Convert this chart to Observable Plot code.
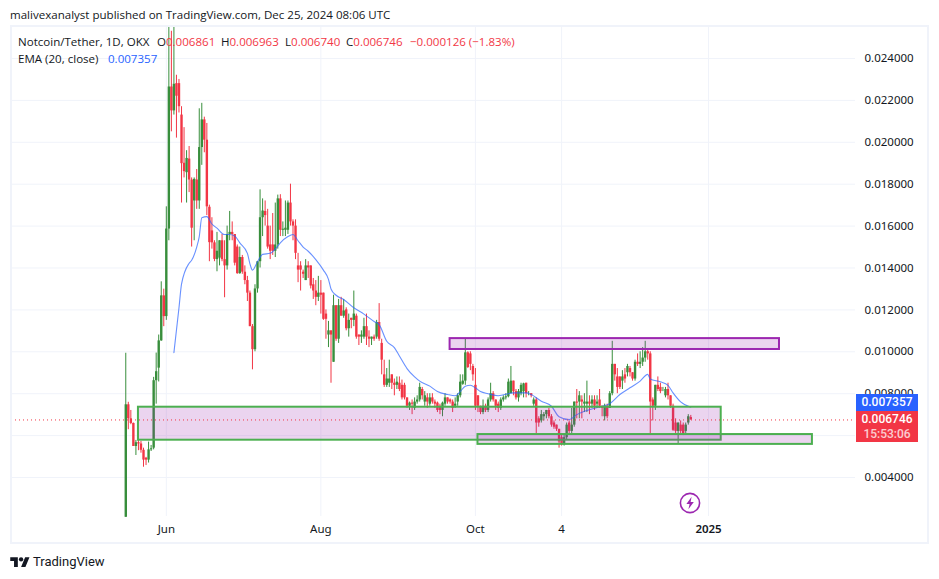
<!DOCTYPE html>
<html><head><meta charset="utf-8">
<script src="https://cdn.jsdelivr.net/npm/d3@7"></script>
<script src="https://cdn.jsdelivr.net/npm/@observablehq/plot@0.6"></script>
<style>
html,body{margin:0;padding:0;background:#fff;overflow:hidden}
#page{position:relative;width:939px;height:579px;overflow:hidden;font-family:Roboto,sans-serif;color:#131722}
#chart{position:absolute;left:0;top:25px}
#panel{position:absolute;left:10px;top:25px;width:915px;height:515px;border:2px solid #f0f3fa;pointer-events:none}
.t{position:absolute;white-space:nowrap;font-family:"Open Sans",sans-serif;font-size:11.55px;line-height:14px}
.r{color:#f23645}.b{color:#2962ff}
.tag{position:absolute;left:856px;width:62px;color:#fff;text-align:center;font-size:12px;font-weight:500}
</style></head><body>
<div id="page">
<div class="t" id="pub" style="left:10px;top:8px">malivexanalyst published on TradingView.com, Dec 25, 2024 08:06 UTC</div>
<div id="chart"></div>
<div id="panel"></div>
<div class="t" style="left:18px;top:35px">Notcoin/Tether, 1D, OKX</div>
<div class="t" style="left:157px;top:35px">O<span class="r">0.006861</span></div>
<div class="t" style="left:221px;top:35px">H<span class="r">0.006963</span></div>
<div class="t" style="left:285px;top:35px">L<span class="r">0.006740</span></div>
<div class="t" style="left:346px;top:35px">C<span class="r">0.006746</span></div>
<div class="t r" style="left:410px;top:35px">−0.000126 (−1.83%)</div>
<div class="t" style="left:18px;top:52px">EMA (20, close)</div>
<div class="t b" style="left:108px;top:52px">0.007357</div>
<div class="tag" style="top:394px;height:17px;line-height:17px;background:#2962ff">0.007357</div>
<div class="tag" style="top:411px;height:31px;background:#f23645;line-height:15px"><div style="padding-top:1px">0.006746</div><div style="opacity:.75">15:53:06</div></div>
<svg style="position:absolute;left:679px;top:492px" width="22" height="22" viewBox="0 0 22 22"><circle cx="11" cy="11" r="9.6" fill="#fff" stroke="#9c27b0" stroke-width="1.6"/><path d="M12.6 4.8 7.4 12h3.2l-1.2 5.2L14.8 10h-3.2z" fill="#9c27b0"/></svg>
<svg style="position:absolute;left:10px;top:555px" width="20" height="13" viewBox="0 0 36 24"><path d="M14 22H7V11H0V4h14v18zM28 22h-8l7.5-18h8L28 22z" fill="#131722"/><circle cx="20" cy="8" r="4" fill="#131722"/></svg>
<div class="t" style="left:33px;top:554px;font-family:Roboto,sans-serif;font-size:13px;line-height:15px;font-weight:400">TradingView</div>
</div>
<script>
// Daily candles, first one on 16 May 2024.
const opens = [
.0021,.00747,.0068,.00658,.00548,.00566,.0056,.0053,.00492,.00483,
.00532,.0054,.00862,.00922,.01052,.01267,.01168,.01586,.02264,.0215,
.0228,.0228,.0213,.019,.01855,.0192,.0182,.0172,.0182,.0172,
.01975,.02107,.0201,.0169,.01577,.0152,.0144,.01447,.0153,.0144,
.0141,.0156,.0157,.0156,.015,.01373,.0145,.0138,.0134,.0128,
.0112,.0101,.013,.0143,.0164,.0167,.016,.0151,.0151,.0148,
.0151,.0173,.0158,.0158,.0158,.0171,.0162,.016,.0141,.0141,
.0138,.0134,.0141,.0141,.0132,.0129,.0126,.0128,.0128,.0118,
.0108,.011,.0095,.0122,.0106,.0122,.0117,.012,.0111,.0116,
.0115,.0117,.0108,.0107,.0107,.0112,.0107,.0106,.0107,.0107,
.0114,.0104,.0089,.0084,.0085,.0089,.0085,.0084,.0085,.0084,
.0084,.0078,.0074,.00755,.0073,.0076,.0077,.0082,.0076,.0078,
.0075,.0078,.0076,.00755,.0074,.0072,.0075,.0078,.0077,.0076,
.0074,.0076,.0079,.00845,.0086,.00995,.0099,.0093,.0084,.0079,
.0074,.0071,.0074,.0072,.0077,.008,.0077,.0075,.0073,.0077,
.0078,.00785,.008,.0086,.0081,.0078,.008,.0081,.0085,.008,
.008,.0075,.0077,.0068,.0067,.0069,.007,.0072,.0069,.0066,
.0065,.0063,.0059,.0056,.0059,.0066,.0062,.0065,.0076,
.0076,.0077,.0075,.0075,.0076,.0075,.0077,.0075,.0077,.0074,
.0069,.0074,.0073,.008,.0094,.0088,.0088,.0086,.0089,.009,
.0092,.009,.0087,.0095,.0094,.0095,.0097,.01,.0099,.0077,
.0074,.0084,.0083,.0082,.0079,.0082,.0079,.0074,.0066,.0062,.0065,.0065,.0062,.0066,.006861];
const highs = [
.00993,.00759,.0072,.0066,.00577,.00623,.00572,.0054,.00496,.00569,
.00553,.00878,.00994,.0108,.01334,.01299,.01692,.02548,.0253,.02548,
.0232,.023,.0217,.0207,.0196,.0198,.0183,.0183,.0187,.0216,
.02186,.0212,.0209,.017,.0164,.0153,.0157,.0153,.0156,.0153,
.016,.0167,.0162,.0156,.0151,.015,.0146,.0141,.0136,.0129,
.0113,.0132,.0143,.01773,.0173,.0172,.0168,.016,.0166,.0171,
.01748,.0175,.0162,.0172,.0172,.018,.0163,.0163,.0147,.0143,
.0139,.0144,.0143,.0141,.0135,.0134,.0136,.0134,.0128,.012,
.01145,.011,.0127,.0122,.0125,.0126,.0125,.0121,.0118,.0116,
.0129,.0118,.0108,.011,.0116,.0118,.011,.0107,.0108,.0115,
.0123,.0106,.0096,.0092,.0096,.0089,.0087,.0088,.0088,.00865,
.0085,.0078,.0076,.0077,.0078,.0079,.0085,.0083,.0081,.008,
.008,.008,.0077,.0076,.0075,.0076,.008,.0078,.00775,.0077,
.0078,.008,.0089,.0089,.0106,.01,.01,.0094,.0092,.0079,
.0074,.0077,.0075,.0078,.0085,.0081,.0077,.0076,.0078,.0079,
.008,.0087,.0093,.0086,.0082,.0082,.0085,.0085,.0085,.0081,
.008,.0078,.0078,.0069,.0072,.0071,.0072,.0073,.007,.0067,
.0065,.0063,.006,.006,.0066,.0067,.0073,.0076,.0082,
.0081,.0079,.008,.0086,.0079,.0079,.0079,.0079,.0082,.0074,
.0075,.0075,.0081,.0105,.0094,.0092,.0088,.0091,.0092,.0094,
.0093,.009,.0096,.0099,.01,.0102,.0105,.0101,.01,.0078,
.0084,.0088,.0085,.0083,.0083,.0085,.0079,.0075,.0068,.0066,.0067,.0066,.0066,.007,.006963];
const lows = [
.0021,.00628,.00652,.00548,.00505,.00528,.00516,.00449,.00457,.00469,
.00524,.00532,.0075,.00856,.0105,.0112,.0115,.0153,.0205,.0213,
.0202,.0214,.0171,.0183,.0171,.0176,.015,.0153,.0168,.0168,
.0189,.0195,.0165,.0143,.0149,.0143,.01382,.0141,.0143,.01258,
.0139,.0153,.0153,.0141,.0137,.0137,.0137,.0132,.0124,.0112,
.00914,.01,.0128,.014,.0155,.016,.0149,.0144,.0146,.0145,
.0149,.0155,.0155,.0155,.0156,.016,.0153,.0144,.0133,.0129,
.0135,.0134,.0135,.013,.0125,.0122,.0124,.0118,.0115,.0106,
.0102,.0085,.0095,.0105,.0104,.0117,.0116,.011,.0107,.0111,
.0112,.0106,.0103,.0104,.0106,.0103,.0102,.0103,.0105,.0106,
.0105,.0089,.0083,.0083,.0083,.0082,.0079,.0082,.0081,.0077,
.0077,.0073,.0072,.007,.0072,.0075,.0076,.0077,.0074,.0073,
.0074,.0075,.0073,.0071,.007,.0069,.0074,.0075,.0075,.0071,
.0073,.0074,.0078,.0084,.0084,.0092,.0091,.0086,.0072,.0071,
.007,.007,.0071,.0071,.0076,.0076,.0072,.0071,.0072,.0076,
.0077,.0078,.008,.0079,.0077,.0076,.0079,.0078,.0078,.0079,
.0078,.0074,.0061,.0064,.0066,.0067,.0068,.0068,.0064,.0063,
.0062,.0054,.0055,.0055,.0058,.0061,.0061,.0064,.0068,
.0068,.0068,.0071,.0071,.007,.0073,.0072,.0073,.0073,.0069,
.0067,.0068,.0073,.0079,.0086,.008,.0082,.0082,.0085,.0088,
.0088,.0086,.0086,.0093,.0092,.0093,.0095,.0096,.0061,.0067,
.0072,.0081,.008,.0081,.0078,.0077,.0073,.0062,.0061,.0056,.0061,.006,.0061,.0065,.00674];
const closes = [
.00747,.0068,.00658,.00548,.00566,.0056,.0053,.00483,.00483,.00532,
.00537,.00862,.00905,.01052,.01267,.01168,.01586,.02264,.0215,.02277,
.0222,.0217,.01898,.0186,.01923,.0182,.0159,.01823,.0172,.01975,
.02107,.0201,.01692,.01521,.0152,.01441,.0148,.0153,.0144,.0141,
.0156,.0157,.0156,.01423,.01373,.0145,.0138,.0134,.0128,.0112,
.0101,.013,.0143,.0164,.01672,.0165,.015,.0148,.0148,.0151,
.0173,.0158,.01585,.0159,.0171,.0162,.016,.0147,.0139,.0139,
.0137,.0141,.014,.01314,.0129,.0126,.0128,.0127,.01155,.01155,
.011,.0108,.0122,.0106,.0122,.0117,.01195,.0111,.0115,.0115,
.0118,.0107,.0107,.0108,.0112,.0107,.0106,.0107,.0106,.0114,
.0106,.0096,.0084,.0087,.0087,.0085,.0084,.00855,.0082,.0078,
.0078,.0074,.00755,.0075,.0076,.0077,.0083,.0079,.0079,.0076,
.0078,.0076,.0075,.0072,.0072,.00755,.0078,.0076,.0076,.0073,
.0075,.0079,.00855,.0086,.00995,.00925,.0094,.0089,.0074,.0074,
.0071,.0074,.0072,.0077,.008,.0077,.0074,.0073,.0077,.0078,
.00785,.00855,.0086,.0081,.0078,.0081,.0084,.00847,.008,.008,
.0079,.0077,.0066,.0066,.007,.007,.0072,.0069,.0065,.0064,
.0063,.0057,.0056,.0059,.0065,.0062,.0065,.0076,.00755,
.0079,.0076,.0076,.0076,.0075,.0077,.0074,.0076,.0074,.0073,
.0074,.0069,.008,.0094,.0089,.0083,.0083,.0088,.0087,.0093,
.009,.0087,.0095,.0094,.0095,.0097,.01,.0099,.0076,.0074,
.0084,.0082,.0081,.0082,.0082,.0079,.0074,.00625,.0062,.0066,.0062,.0061,.0065,.0069,.006746];
// EMA (20, close) read at these candle numbers.
const emaDays = [19,21,22,25,26,28,29,30,32,34,36,39,41,43,45,48,49,50,52,54,57,59,61,64,66,68,70,72,75,78,80,81,83,86,90,94,98,100,103,106,108,111,114,116,120,123,127,130,132,134,136,138,140,143,147,153,158,160,164,168,171,175,178,182,187,191,195,199,203,206,207,211,214,216,219,223];
const emaValues = [.00996,.0121,.01323,.01423,.01437,.015,.0155,.0164,.01645,.0161,.0159,.0156,.0156,.01553,.0152,.0147,.0142,.0139,.0143,.01465,.0147,.0149,.0152,.0155,.0156,.0153,.015,.0148,.0144,.0139,.01346,.013,.0127,.0125,.0121,.0118,.01145,.0113,.0105,.0102,.0098,.0092,.0088,.0086,.00836,.0081,.00796,.0079,.0081,.00836,.0084,.00828,.0081,.008,.0079,.00804,.00804,.00796,.00764,.0074,.0069,.00676,.007,.0072,.00737,.00752,.00796,.00828,.0086,.00892,.0087,.00857,.0084,.00804,.00761,.007357];
// Drawn zones: start, end, upper price, lower price.
const zoneStarts = ["2024-05-21","2024-10-02","2024-09-21"];
const zoneEnds = ["2025-01-06","2025-02-11","2025-01-29"];
const zoneTops = [.007355,.00605,.01063];
const zoneBottoms = [.00578,.00558,.01011];
const zoneBorders = ["#4caf50","#4caf50","#9c27b0"];
const gridPrices = [.004,.006,.008,.01,.012,.014,.016,.018,.02,.022,.024];
const labelledPrices = [.004,.008,.01,.012,.014,.016,.018,.02,.022,.024];
const timeTicks = ["2024-06-01","2024-08-01","2024-10-01","2024-11-04"];
const timeLabels = ["Jun","Aug","Oct","4"];
const yearTick = "2025-01-01";
const yearLabel = "2025";
const lastPrice = .006746;

const firstDay = new Date(Date.UTC(2024,4,16));
const dayOf = i => d3.utcDay.offset(firstDay,i);
const candles = opens.map((o,i)=>({date:dayOf(i),o,h:highs[i],l:lows[i],c:closes[i]}));
const ema = emaDays.map((d,i)=>({date:dayOf(d),v:emaValues[i]}));
const zones = zoneStarts.map((s,i)=>({s:new Date(s),e:new Date(zoneEnds[i]),t:zoneTops[i],b:zoneBottoms[i],stroke:zoneBorders[i]}));
const tickDates = timeTicks.map(d=>new Date(d));
const yearDate = new Date(yearTick);
const up = d=>d.c>=d.o?"#388e3c":"#f23645";

const chart = Plot.plot({
  width:939,height:520,marginTop:2,marginBottom:29,marginLeft:11,marginRight:84,
  style:{background:"transparent",overflow:"visible"},
  x:{type:"utc",domain:[new Date(Date.UTC(2024,2,31,21,36)),new Date(Date.UTC(2025,1,28))],axis:null},
  y:{domain:[.002138,.02548],axis:null},
  marks:[
    Plot.gridY(gridPrices,{stroke:"#f0f3fa",strokeOpacity:1}),
    Plot.gridX([...tickDates,yearDate],{stroke:"#f0f3fa",strokeOpacity:1}),
    Plot.ruleX(candles,{x:"date",y1:"l",y2:"h",stroke:up,strokeWidth:1}),
    Plot.ruleX(candles,{x:"date",y1:"o",y2:"c",stroke:up,strokeWidth:2.4}),
    Plot.line(ema,{x:"date",y:"v",stroke:"#2962ff",strokeWidth:1.1,strokeOpacity:.7,curve:"monotone-x"}),
    Plot.rect(zones,{x1:"s",x2:"e",y1:"b",y2:"t",fill:"#9c27b0",fillOpacity:.2,stroke:"stroke",strokeWidth:2}),
    Plot.ruleY([lastPrice],{stroke:"#f23645",strokeDasharray:"1,3",strokeWidth:1}),
    Plot.axisY({anchor:"right",ticks:labelledPrices,tickSize:0,tickPadding:9,label:null,fontSize:11.5,
      tickFormat:d=>d.toFixed(6),fill:"#131722"}),
    Plot.axisX({ticks:tickDates,tickSize:0,tickPadding:8,label:null,fontSize:11.5,fill:"#131722",
      tickFormat:d=>timeLabels[tickDates.findIndex(t=>+t===+d)]}),
    Plot.axisX({ticks:[yearDate],tickSize:0,tickPadding:8,label:null,fontSize:11.5,fontWeight:600,fill:"#131722",
      tickFormat:()=>yearLabel})
  ]
});
document.getElementById("chart").appendChild(chart);
</script>
</body></html>
